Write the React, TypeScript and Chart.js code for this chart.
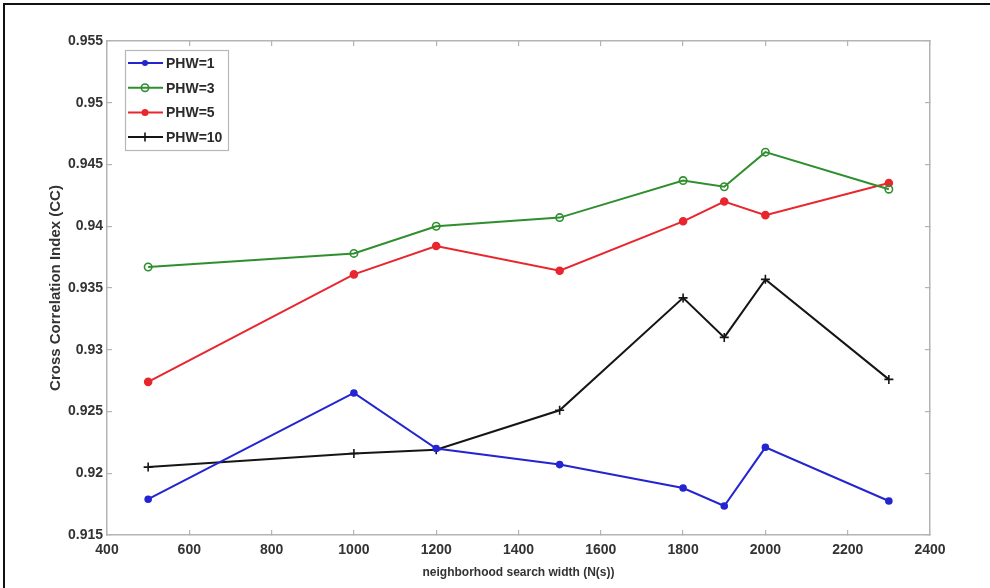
import React, { useEffect, useRef } from "react";
import { Chart, registerables } from "chart.js";

Chart.register(...registerables);

const searchWidths = [500, 1000, 1200, 1500, 1800, 1900, 2000, 2300];
const phw1 = [0.9179, 0.9265, 0.922, 0.9207, 0.9188, 0.91735, 0.9221, 0.91775];
const phw3 = [0.9367, 0.9378, 0.94, 0.9407, 0.9437, 0.9432, 0.946, 0.943];
const phw5 = [0.9274, 0.9361, 0.9384, 0.9364, 0.9404, 0.942, 0.9409, 0.9435];
const phw10 = [0.9205, 0.9216, 0.9219, 0.9251, 0.9342, 0.931, 0.9357, 0.9276];

const xTicks = [400, 600, 800, 1000, 1200, 1400, 1600, 1800, 2000, 2200, 2400];
const yTicks = [0.915, 0.92, 0.925, 0.93, 0.935, 0.94, 0.945, 0.95, 0.955];
const yTickLabels = ["0.915", "0.92", "0.925", "0.93", "0.935", "0.94", "0.945", "0.95", "0.955"];
const seriesNames = ["PHW=1", "PHW=3", "PHW=5", "PHW=10"];

const FONT = "'Liberation Sans', Arial, sans-serif";
const AXIS_COLOR = "#b4b4b4";

const seriesStyles = [
  { color: "#2424d0", point: "circle", radius: 3, fill: true },
  { color: "#2f8f2f", point: "circle", radius: 3.7, fill: false },
  { color: "#e8262e", point: "circle", radius: 3.5, fill: true },
  { color: "#151515", point: "cross", radius: 4.5, fill: false },
];

function drawMarker(ctx: CanvasRenderingContext2D, st: any, x: number, y: number) {
  ctx.save();
  ctx.strokeStyle = st.color;
  ctx.fillStyle = st.color;
  ctx.lineWidth = 1.6;
  if (st.point === "cross") {
    ctx.beginPath();
    ctx.moveTo(x - st.radius, y);
    ctx.lineTo(x + st.radius, y);
    ctx.moveTo(x, y - st.radius);
    ctx.lineTo(x, y + st.radius);
    ctx.stroke();
  } else {
    ctx.beginPath();
    ctx.arc(x, y, st.radius, 0, Math.PI * 2);
    if (st.fill) ctx.fill();
    else ctx.stroke();
  }
  ctx.restore();
}

const framePlugin = {
  id: "frame",
  beforeDraw(chart: any) {
    const ctx = chart.ctx;
    ctx.save();
    ctx.fillStyle = "#ffffff";
    ctx.fillRect(0, 0, chart.width, chart.height);
    ctx.fillStyle = "#111";
    ctx.fillRect(3, 3, chart.width - 3, 2);
    ctx.fillRect(3, 3, 2, chart.height - 3);
    ctx.restore();
  },
};

const legendPlugin = {
  id: "insideLegend",
  afterDraw(chart: any) {
    const ctx = chart.ctx;
    const area = chart.chartArea;
    const bx = area.left + 18;
    const by = area.top + 9;
    const bw = 103;
    const bh = 100;
    ctx.save();
    ctx.fillStyle = "#ffffff";
    ctx.fillRect(bx, by, bw, bh);
    ctx.strokeStyle = "#b8b8b8";
    ctx.lineWidth = 1.2;
    ctx.strokeRect(bx + 0.5, by + 0.5, bw, bh);
    ctx.font = "bold 14px " + FONT;
    ctx.textBaseline = "middle";
    ctx.textAlign = "left";
    chart.data.datasets.forEach((ds: any, i: number) => {
      const st = seriesStyles[i];
      const y = by + 13 + i * 24.7;
      ctx.strokeStyle = st.color;
      ctx.lineWidth = 2;
      ctx.beginPath();
      ctx.moveTo(bx + 3, y);
      ctx.lineTo(bx + 38, y);
      ctx.stroke();
      drawMarker(ctx, st, bx + 20, y);
      ctx.fillStyle = "#2a2a2a";
      ctx.fillText(ds.label, bx + 41, y + 1);
    });
    ctx.restore();
  },
};

export default function App() {
  const canvasRef = useRef<HTMLCanvasElement | null>(null);

  useEffect(() => {
    if (!canvasRef.current) return;
    const allSeries = [phw1, phw3, phw5, phw10];
    const datasets = allSeries.map((vals, i) => {
      const st = seriesStyles[i];
      return {
        label: seriesNames[i],
        data: searchWidths.map((x, j) => ({ x, y: vals[j] })),
        borderColor: st.color,
        backgroundColor: st.fill ? st.color : "rgba(255,255,255,0)",
        borderWidth: 2,
        pointStyle: st.point,
        pointRadius: st.radius,
        pointBorderWidth: 1.6,
        pointBorderColor: st.color,
        pointBackgroundColor: st.fill ? st.color : "rgba(255,255,255,0)",
        tension: 0,
        fill: false,
      };
    });

    const baseGrid = {
      drawOnChartArea: false,
      drawTicks: true,
      tickLength: -5,
      color: AXIS_COLOR,
      lineWidth: 1.2,
    };
    const baseBorder = { display: true, color: AXIS_COLOR, width: 1.5 };
    const tickFont = { family: FONT, size: 14, weight: "bold" as const };

    const chart = new Chart(canvasRef.current, {
      type: "line",
      data: { datasets },
      plugins: [framePlugin, legendPlugin],
      options: {
        animation: false,
        responsive: true,
        maintainAspectRatio: false,
        layout: { padding: { top: 41, right: 60, left: 0, bottom: 0 } },
        plugins: {
          legend: { display: false },
          tooltip: { enabled: false },
        },
        scales: {
          x: {
            type: "linear",
            position: "bottom",
            min: 400,
            max: 2400,
            afterBuildTicks: (scale: any) => {
              scale.ticks = xTicks.map((v) => ({ value: v }));
            },
            afterFit: (scale: any) => {
              scale.height = 53;
            },
            grid: baseGrid,
            border: baseBorder,
            ticks: {
              font: tickFont,
              color: "#333",
              padding: 12,
              maxRotation: 0,
              autoSkip: false,
              callback: (v: any) => String(v),
            },
            title: {
              display: true,
              text: "neighborhood search width (N(s))",
              font: { family: FONT, size: 12, weight: "bold" },
              color: "#333",
              padding: { top: 0, bottom: 8 },
            },
          },
          x2: {
            type: "linear",
            position: "top",
            min: 400,
            max: 2400,
            afterBuildTicks: (scale: any) => {
              scale.ticks = xTicks.map((v) => ({ value: v }));
            },
            afterFit: (scale: any) => {
              scale.height = 0;
            },
            grid: baseGrid,
            border: baseBorder,
            ticks: { display: false },
          },
          y: {
            type: "linear",
            position: "left",
            min: 0.915,
            max: 0.955,
            afterBuildTicks: (scale: any) => {
              scale.ticks = yTicks.map((v) => ({ value: v }));
            },
            afterFit: (scale: any) => {
              scale.width = 107;
            },
            grid: baseGrid,
            border: baseBorder,
            ticks: {
              font: tickFont,
              color: "#333",
              padding: 9,
              autoSkip: false,
              callback: (v: any) => {
                const idx = yTicks.findIndex((t) => Math.abs(t - v) < 1e-9);
                return idx >= 0 ? yTickLabels[idx] : "";
              },
            },
            title: {
              display: true,
              text: "Cross Correlation Index (CC)",
              font: { family: FONT, size: 15, weight: "bold" },
              color: "#333",
              padding: { top: 47, bottom: 0 },
            },
          },
          y2: {
            type: "linear",
            position: "right",
            min: 0.915,
            max: 0.955,
            afterBuildTicks: (scale: any) => {
              scale.ticks = yTicks.map((v) => ({ value: v }));
            },
            afterFit: (scale: any) => {
              scale.width = 0;
            },
            grid: baseGrid,
            border: baseBorder,
            ticks: { display: false },
          },
        },
      },
    } as any);

    return () => {
      chart.destroy();
    };
  }, []);

  return (
    <div
      style={{
        position: "fixed",
        left: 0,
        top: 0,
        width: 990,
        height: 588,
        background: "#fff",
      }}
    >
      <canvas ref={canvasRef} />
    </div>
  );
}
